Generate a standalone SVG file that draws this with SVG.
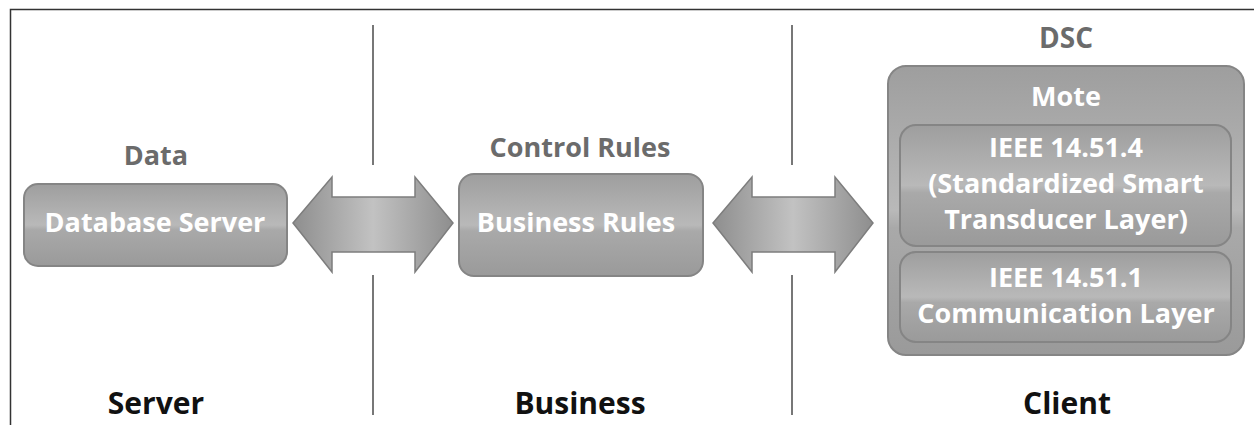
<svg xmlns="http://www.w3.org/2000/svg" width="1254" height="425" viewBox="0 0 1254 425">
<defs>
<linearGradient id="boxg" x1="0" y1="0" x2="0" y2="1">
<stop offset="0" stop-color="#9e9e9e"/>
<stop offset="0.5" stop-color="#b9b9b9"/>
<stop offset="0.56" stop-color="#a9a9a9"/>
<stop offset="1" stop-color="#9a9a9a"/>
</linearGradient>
<linearGradient id="arrg" x1="0" y1="0" x2="1" y2="0">
<stop offset="0" stop-color="#8e8e8e"/>
<stop offset="0.5" stop-color="#c2c2c2"/>
<stop offset="1" stop-color="#8e8e8e"/>
</linearGradient>
<style>
.box{fill:url(#boxg);stroke:#858585;stroke-width:2}
.arr{fill:url(#arrg);stroke:#7d7d7d;stroke-width:1.5}
.div{stroke:#777777;stroke-width:2}
.t{font-family:"Open Sans","Liberation Sans",sans-serif;font-weight:bold;text-anchor:middle}
.w{fill:#ffffff;font-size:27px}
.g{fill:#6b6b6b;font-size:27px}
.k{fill:#111111;font-size:30px}
</style>
</defs>
<rect width="1254" height="425" fill="#ffffff"/>
<path d="M10.5 425 V9.5 H1254" fill="none" stroke="#333333" stroke-width="1.5"/>
<g id="dividers">
<line class="div" x1="373" y1="25" x2="373" y2="165"/>
<line class="div" x1="373" y1="275" x2="373" y2="415"/>
<line class="div" x1="792" y1="25" x2="792" y2="165"/>
<line class="div" x1="792" y1="275" x2="792" y2="415"/>
</g>
<g id="connectors">
<path class="arr" d="M293 223 L332 177 V197 H415 V177 L453 223 L415 272 V252 H332 V272 Z"/>
<path class="arr" d="M713 223 L752 177 V197 H835 V177 L873 223 L835 272 V252 H752 V272 Z"/>
</g>
<g id="server">
<text class="t g" x="156" y="165">Data</text>
<rect class="box" x="24" y="184" width="263" height="82" rx="14"/>
<text class="t w" x="155" y="232">Database Server</text>
<text class="t k" x="156" y="414">Server</text>
</g>
<g id="business">
<text class="t g" x="580" y="157">Control Rules</text>
<rect class="box" x="459" y="174" width="244" height="102" rx="15"/>
<text class="t w" x="576" y="232">Business Rules</text>
<text class="t k" x="580" y="414">Business</text>
</g>
<g id="client">
<text class="t g" x="1066" y="48" style="font-size:28px">DSC</text>
<rect class="box" x="888" y="66" width="356" height="289" rx="18"/>
<text class="t w" x="1066" y="106">Mote</text>
<rect class="box" x="900" y="125" width="331" height="121" rx="16"/>
<text class="t w" x="1066" y="157">IEEE 14.51.4</text>
<text class="t w" x="1066" y="193">(Standardized Smart</text>
<text class="t w" x="1066" y="229">Transducer Layer)</text>
<rect class="box" x="900" y="252" width="331" height="90" rx="16"/>
<text class="t w" x="1066" y="287">IEEE 14.51.1</text>
<text class="t w" x="1066" y="323">Communication Layer</text>
<text class="t k" x="1067" y="414">Client</text>
</g>
</svg>
